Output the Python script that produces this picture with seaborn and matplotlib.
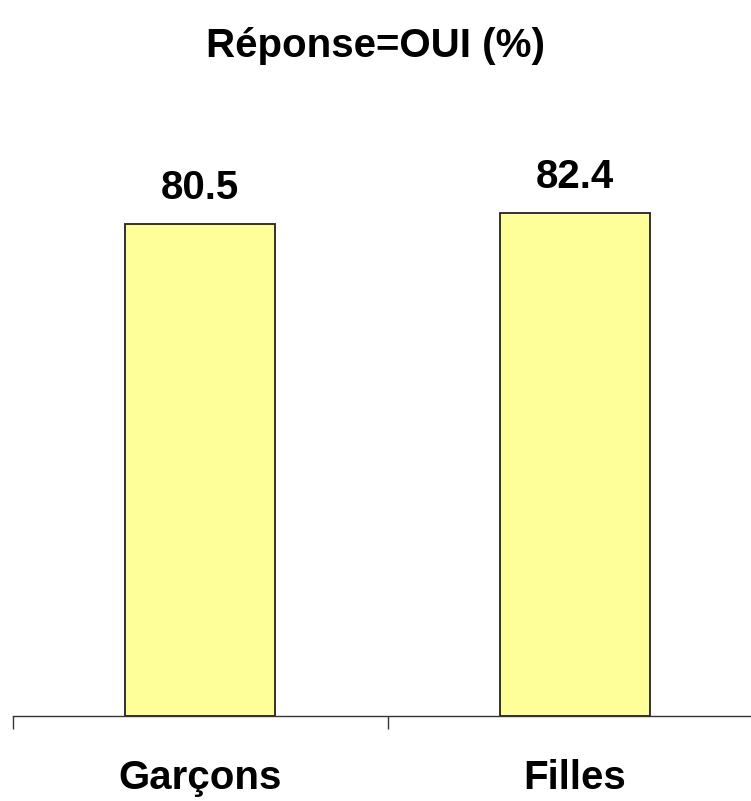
import matplotlib
matplotlib.use("Agg")
import matplotlib.pyplot as plt
import seaborn as sns
import pandas as pd

categories = ["Garçons", "Filles"]
values = [80.5, 82.4]
title = "Réponse=OUI (%)"

sns.set_style("white")
plt.rcParams["font.family"] = ["Liberation Sans", "DejaVu Sans"]
plt.rcParams["text.color"] = "black"
plt.rcParams["xtick.color"] = "#333333"
plt.rcParams["xtick.labelcolor"] = "black"

df = pd.DataFrame({"cat": categories, "val": values})

fig = plt.figure(figsize=(7.51, 8.01), dpi=100)
ax = fig.add_axes([13 / 751, 85 / 801, 749 / 751, 611 / 801])

sns.barplot(data=df, x="cat", y="val", color="#FFFF99", saturation=1,
            edgecolor="#222222", linewidth=1.3, width=0.4, ax=ax)

ax.set_xlim(-0.5, 1.5)
ax.set_ylim(0, 100)

for c in ax.containers:
    ax.bar_label(c, labels=[f"{v:.1f}" for v in values], padding=12,
                 fontsize=29, fontweight="bold", color="black")

for s in ["left", "right", "top"]:
    ax.spines[s].set_visible(False)
ax.spines["bottom"].set_color("#333333")
ax.spines["bottom"].set_linewidth(1.0)

ax.set_yticks([])
ax.set_xlabel("")
ax.set_ylabel("")
ax.set_xticks([0, 1])
ax.set_xticklabels(categories, fontsize=29, fontweight="bold", color="black")
ax.tick_params(axis="x", which="major", bottom=True, length=0, pad=31)
ax.set_xticks([-0.5, 0.5, 1.5], minor=True)
ax.tick_params(axis="x", which="minor", bottom=True, length=9.5, width=1.0,
               color="#333333", direction="out")

fig.text(0.5, 1 - 46 / 801, title, ha="center", va="center",
         fontsize=29, fontweight="bold", color="black")

fig.savefig("out.png", dpi=100)
